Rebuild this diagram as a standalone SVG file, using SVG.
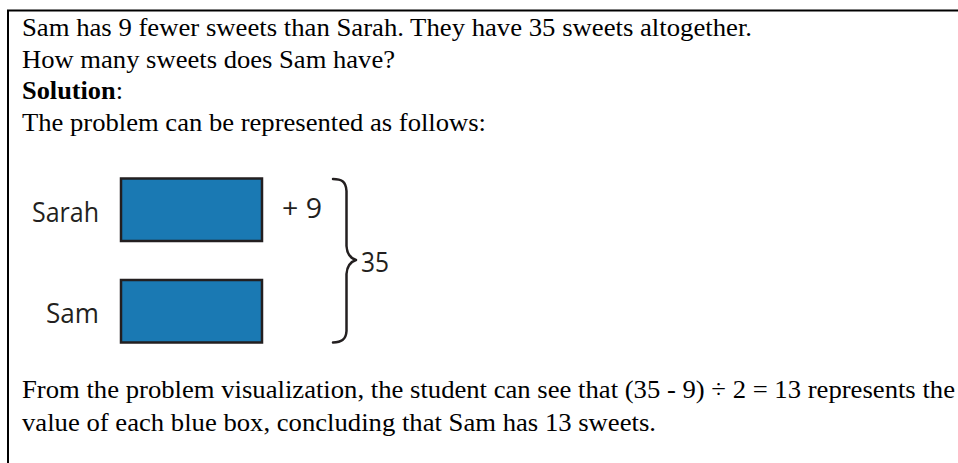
<svg xmlns="http://www.w3.org/2000/svg" width="958" height="463" viewBox="0 0 958 463">
<style>
.t{font-family:"Liberation Serif","Times New Roman",serif;font-size:25px;fill:#000}
.b{font-weight:bold}
.lbl{font-family:"Open Sans","Liberation Sans",sans-serif;font-size:27px;fill:#231f20}
.bar{fill:#1a79b3;stroke:#231f20;stroke-width:2.5}
.brace{fill:none;stroke:#231f20;stroke-width:2.5;stroke-linecap:round;stroke-linejoin:round}
</style>
<rect width="958" height="463" fill="#fff"/>
<path d="M8 463 V10.5 H958" fill="none" stroke="#000" stroke-width="2"/>
<g id="question">
<text class="t" x="22" y="36" textLength="730" lengthAdjust="spacingAndGlyphs">Sam has 9 fewer sweets than Sarah. They have 35 sweets altogether.</text>
<text class="t" x="22" y="67.5" textLength="373" lengthAdjust="spacingAndGlyphs">How many sweets does Sam have?</text>
<text class="t" x="22" y="99" textLength="101" lengthAdjust="spacingAndGlyphs"><tspan class="b">Solution</tspan>:</text>
<text class="t" x="22" y="131" textLength="464" lengthAdjust="spacingAndGlyphs">The problem can be represented as follows:</text>
</g>
<g id="sarah">
<text class="lbl" x="32" y="222" textLength="67" lengthAdjust="spacingAndGlyphs">Sarah</text>
<rect class="bar" x="121" y="178.5" width="141" height="62.5"/>
<text class="lbl" x="282" y="218" textLength="40" lengthAdjust="spacingAndGlyphs">+ 9</text>
</g>
<g id="sam">
<text class="lbl" x="46" y="323" textLength="53" lengthAdjust="spacingAndGlyphs">Sam</text>
<rect class="bar" x="121" y="280" width="141" height="62.5"/>
</g>
<g id="total">
<path class="brace" d="M333 179 C341 179 346 181 346.5 191 L346.5 246 C347 254 350 258 356 260 C350 262 347 266 346.5 274 L346.5 331 C346 340 341 342 333 342.5"/>
<text class="lbl" x="361" y="272" textLength="28" lengthAdjust="spacingAndGlyphs">35</text>
</g>
<g id="answer">
<text class="t" x="22" y="398" textLength="933" lengthAdjust="spacingAndGlyphs">From the problem visualization, the student can see that (35 - 9) ÷ 2 = 13 represents the</text>
<text class="t" x="22" y="431" textLength="634" lengthAdjust="spacingAndGlyphs">value of each blue box, concluding that Sam has 13 sweets.</text>
</g>
</svg>
